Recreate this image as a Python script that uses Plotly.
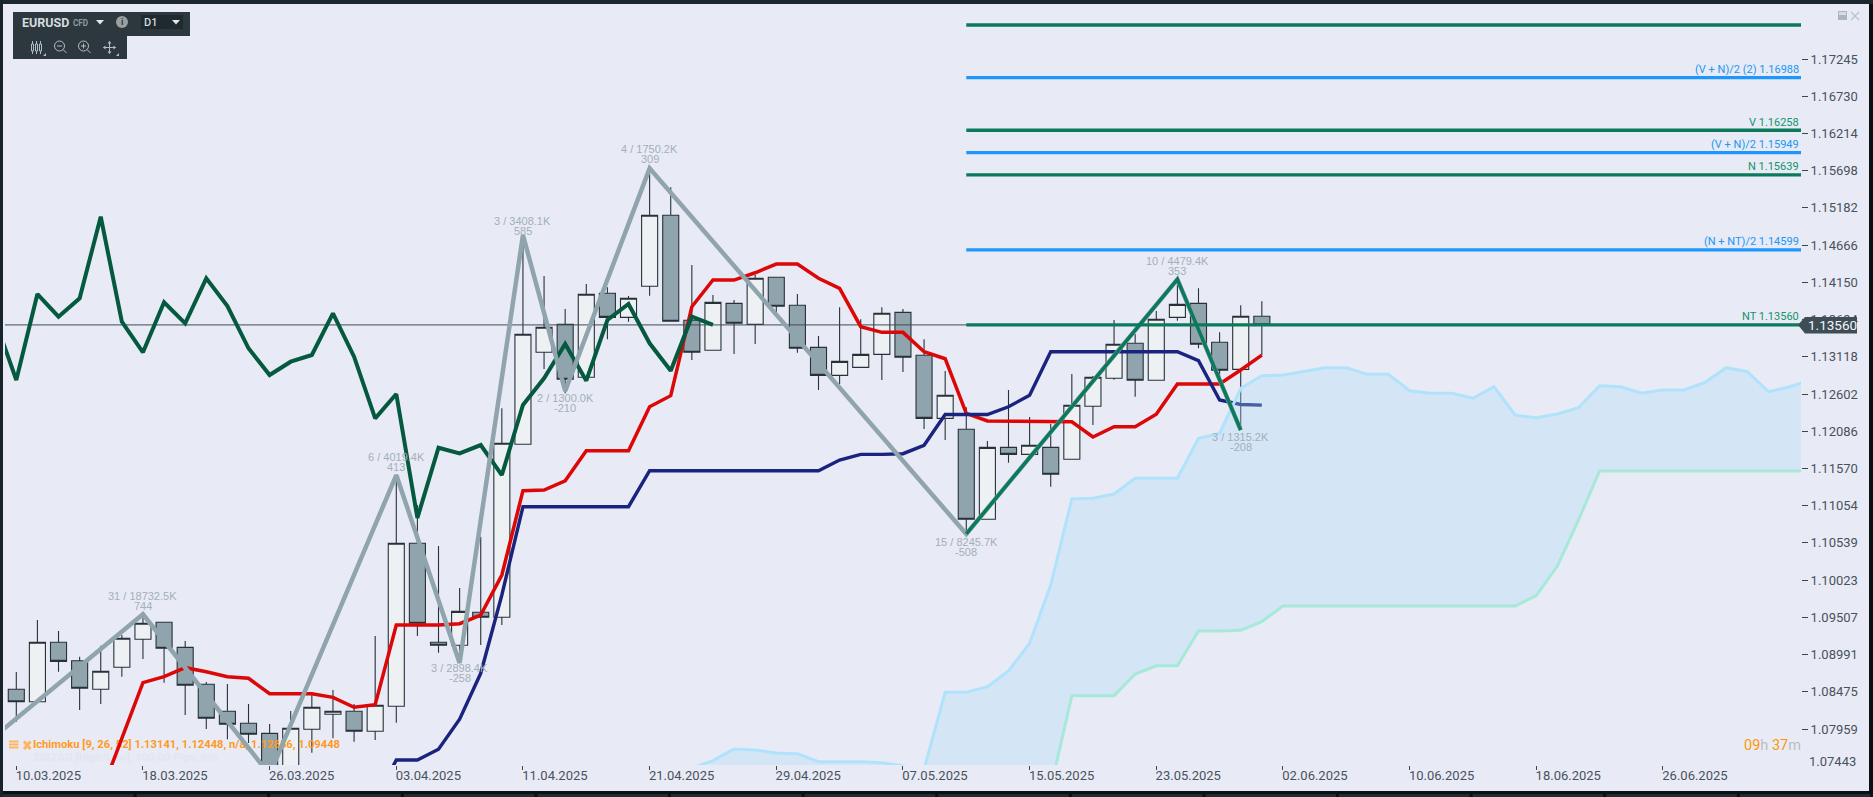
import plotly.graph_objects as go

# ---------- data ----------
tick_labels = ["10.03.2025","18.03.2025","26.03.2025","03.04.2025","11.04.2025","21.04.2025","29.04.2025",
               "07.05.2025","15.05.2025","23.05.2025","02.06.2025","10.06.2025","18.06.2025","26.06.2025"]
price_ticks = [1.17245,1.16730,1.16214,1.15698,1.15182,1.14666,1.14150,1.13634,1.13118,1.12602,
               1.12086,1.11570,1.11054,1.10539,1.10023,1.09507,1.08991,1.08475,1.07959]

opens = [1.08509,1.08337,1.09161,1.08906,1.08509,1.08814,1.09202,1.09438,1.09091,1.08579,1.08204,1.08038,1.07899,1.07321,1.07955,
         1.08163,1.08204,1.07927,1.08274,1.10533,1.09161,1.09119,1.09577,1.09507,1.11905,1.13180,1.13568,1.12834,1.13998,1.13665,
         1.14095,1.15079,1.13624,1.13208,1.13859,1.13568,1.14220,1.13832,1.13249,1.12861,1.12972,1.13152,1.13734,1.13139,1.12265,
         1.12113,1.10866,1.11863,1.11766,1.11863,1.11697,1.12432,1.12820,1.13305,1.12792,1.13665,1.13859,1.13319,1.12944,1.13679]
highs = [1.08749,1.09470,1.09317,1.08961,1.09114,1.09262,1.09539,1.09438,1.09179,1.08610,1.08583,1.08306,1.08028,1.08209,1.08458,
         1.08500,1.08306,1.09248,1.11479,1.11064,1.10495,1.09913,1.10624,1.12404,1.14806,1.14238,1.13780,1.14127,1.14081,1.13960,
         1.15730,1.15467,1.14390,1.13974,1.13905,1.14251,1.14220,1.13988,1.13406,1.13804,1.13638,1.13804,1.13780,1.13360,1.12921,
         1.12418,1.11951,1.12658,1.12283,1.12186,1.12879,1.12852,1.13628,1.13434,1.13753,1.14192,1.14067,1.13457,1.13832,1.13887]
lows = [1.08060,1.08337,1.08753,1.08222,1.08306,1.08684,1.08929,1.08601,1.08153,1.07959,1.07816,1.07765,1.07183,1.07183,1.07631,
        1.07830,1.07783,1.07807,1.08046,1.09248,1.09017,1.08985,1.09123,1.09400,1.11905,1.12949,1.12612,1.12834,1.13360,1.13604,
        1.13965,1.13610,1.13073,1.13208,1.13157,1.13295,1.13721,1.13175,1.12658,1.12741,1.12972,1.12796,1.12907,1.12117,1.11965,
        1.10671,1.10866,1.11650,1.11766,1.11317,1.11697,1.12172,1.12800,1.12565,1.12792,1.13618,1.13236,1.12824,1.12103,1.13143]
closes = [1.08337,1.09161,1.08897,1.08523,1.08759,1.09216,1.09424,1.09078,1.08565,1.08107,1.08024,1.07886,1.07321,1.07969,1.08260,
          1.08204,1.07927,1.08288,1.10533,1.09424,1.09119,1.09590,1.09507,1.11919,1.13430,1.13527,1.12806,1.13984,1.13665,1.13929,
          1.15079,1.13610,1.13180,1.13873,1.13582,1.14206,1.13818,1.13236,1.12861,1.13055,1.13152,1.13721,1.13111,1.12265,1.12584,
          1.10866,1.11863,1.11766,1.11891,1.11489,1.12446,1.12834,1.13291,1.12792,1.13638,1.13845,1.13291,1.12931,1.13679,1.13560]

chikou_start = -1
chikou = [1.13628,1.12796,1.13988,1.13674,1.13929,1.15060,1.13604,1.13180,1.13873,1.13582,1.14206,1.13822,1.13236,1.12865,1.13050,
          1.13143,1.13721,1.13119,1.12265,1.12602,1.10884,1.11858,1.11780,1.11895,1.11479,1.12450,1.12820,1.13295,1.12787,1.13628,
          1.13850,1.13305,1.12925,1.13674,1.13560]
tenkan_start = 4
tenkan = [1.07058,1.07834,1.08601,1.08684,1.08809,1.08753,1.08684,1.08662,1.08448,1.08448,1.08448,1.08398,1.08260,1.08296,
          1.09400,1.09400,1.09400,1.09419,1.09539,1.10093,1.11262,1.11272,1.11400,1.11816,1.11816,1.11816,1.12426,1.12579,
          1.13812,1.14182,1.14182,1.14283,1.14404,1.14404,1.14206,1.14067,1.13535,1.13457,1.13457,1.13188,1.13091,1.12335,
          1.12228,1.12228,1.12228,1.12228,1.12218,1.12006,1.12149,1.12149,1.12321,1.12741,1.12741,1.12741,1.12935,1.13141]
kijun_start = 17
kijun = [1.06975,1.07529,1.07529,1.07678,1.08094,1.08731,1.09816,1.11040,1.11040,1.11040,1.11040,1.11040,1.11040,
         1.11539,1.11539,1.11539,1.11539,1.11539,1.11539,1.11539,1.11539,1.11539,1.11687,1.11766,1.11766,1.11775,1.11891,
         1.12318,1.12318,1.12318,1.12426,1.12584,1.13188,1.13188,1.13188,1.13188,1.13188,1.13188,1.13188,1.13064,1.12519,1.12457,1.12448]
cloud_start = 32
senkou_a = [1.07419,1.07520,1.07682,1.07668,1.07626,1.07617,1.07506,1.07506,1.07506,1.07492,1.07446,1.07405,1.08468,1.08468,1.08545,
            1.08763,1.09147,1.09955,1.11147,1.11157,1.11216,1.11434,1.11434,1.11434,1.11988,1.12057,1.12681,1.12856,1.12865,1.12921,
            1.12967,1.12967,1.12875,1.12875,1.12648,1.12612,1.12612,1.12543,1.12703,1.12311,1.12274,1.12325,1.12412,1.12717,1.12703,
            1.12612,1.12658,1.12658,1.12764,1.12967,1.12911,1.12634,1.12703,1.12796]
senkou_b = [1.06975,1.06975,1.06975,1.06975,1.06975,1.06975,1.06975,1.06975,1.06975,1.06975,1.06975,1.06975,1.06975,1.06975,1.06975,
            1.06975,1.06975,1.07141,1.08421,1.08421,1.08421,1.08721,1.08836,1.08836,1.09317,1.09317,1.09327,1.09448,1.09664,1.09664,
            1.09664,1.09664,1.09664,1.09664,1.09664,1.09664,1.09664,1.09664,1.09664,1.09664,1.09807,1.10218,1.10856,1.11535,1.11535,
            1.11535,1.11535,1.11535,1.11535,1.11535,1.11535,1.11535,1.11535,1.11535]

zigzag_bars = [-1,6,12,18,21,24,26,30,45,55,58]
zigzag_prices = [1.07862,1.09549,1.07326,1.11479,1.08874,1.14806,1.12644,1.15730,1.10662,1.14192,1.12103]
wave_bars = [45,55,58]
wave_prices = [1.10662,1.14192,1.12103]

zz_label_bars = [6,18,21,24,26,30,45,55,58]
zz_label_prices = [1.09549,1.11479,1.08874,1.14806,1.12644,1.15730,1.10662,1.14192,1.12103]
zz_label_top = ["31 / 18732.5K","6 / 4019.4K","3 / 2898.4K","3 / 3408.1K","2 / 1300.0K","4 / 1750.2K","15 / 8245.7K","10 / 4479.4K","3 / 1315.2K"]
zz_label_bottom = ["744","413","-258","585","-210","309","-508","353","-208"]

level_names = ["", "(V + N)/2 (2)", "V", "(V + N)/2", "N", "(N + NT)/2", "NT"]
level_values = [1.17717, 1.16988, 1.16258, 1.15949, 1.15639, 1.14599, 1.13560]
level_kinds = ["g", "b", "g", "b", "g", "b", "g"]

last_price = 1.13560
legend_text = "Ichimoku [9, 26, 52] 1.13141, 1.12448, n/a, 1.12856, 1.09448"
faint_text = "ZIGZAG [High/Low], 100.00 Pips, n/a"

# ---------- layout constants ----------
W, H = 1873, 797
ML, MR, MT, MB = 5, 72, 4, 32
PW, PH = W - ML - MR, H - MT - MB
def fx(x): return (x - ML) / PW
def fy(y): return 1 - (y - MT) / PH

BG = "#e8ebf6"; AXC = "#3c4650"; TXT = "#48525c"; GREY = "#90a4ae"
GREEN = "#0b7a5a"; BLUE = "#1e96fb"; PANEL = "#2d383e"; ICON = "#b0bec5"
xmax_bar = 85

fig = go.Figure()
bars = list(range(len(opens)))

fig.add_trace(go.Candlestick(x=bars, open=opens, high=highs, low=lows, close=closes, whiskerwidth=0,
    increasing=dict(line=dict(color="#263238", width=1.1), fillcolor="#eef1f3"),
    decreasing=dict(line=dict(color="#263238", width=1.1), fillcolor=GREY),
    hoverinfo="skip", showlegend=False))

def line(x, y, color, width, **kw):
    fig.add_trace(go.Scatter(x=list(x), y=y, mode="lines", line=dict(color=color, width=width, shape="linear"),
                             hoverinfo="skip", showlegend=False, **kw))

line([-1, xmax_bar], [last_price, last_price], "#3f4a54", 1)

# legend text is drawn before the indicator lines so they pass over it
fig.add_trace(go.Scatter(x=[0.79], y=[1.07737], mode="text", text=[legend_text], textposition="middle right",
    textfont=dict(family="Roboto", size=11.2, color="#ff9a1f", weight=700), hoverinfo="skip", showlegend=False))
fig.add_trace(go.Scatter(x=[0.79], y=[1.07557], mode="text", text=[faint_text], textposition="middle right",
    textfont=dict(family="Roboto", size=11.2, color="#e3e6f1", weight=700), hoverinfo="skip", showlegend=False))

line(range(tenkan_start, tenkan_start + len(tenkan)), tenkan, "#dc0707", 3.5)
line(range(kijun_start, kijun_start + len(kijun)), kijun, "#1a237e", 3.4)
cloud_x = range(cloud_start, cloud_start + len(senkou_a))
line(cloud_x, senkou_b, "#a6e9d8", 3)
line(cloud_x, senkou_a, "#b0e3fb", 3, fill="tonexty", fillcolor="rgba(170,218,246,0.32)")
line(range(chikou_start, chikou_start + len(chikou)), chikou, "#04593f", 4)
line(zigzag_bars, zigzag_prices, GREY, 4.5)
line(wave_bars, wave_prices, GREEN, 3.5)
for value, kind in zip(level_values, level_kinds):
    line([wave_bars[0], xmax_bar], [value, value], GREEN if kind == "g" else BLUE, 3.3)

# ---------- annotations ----------
ann = []
def ptext(x, y, text, size, color, anchor="left", family="Roboto", weight=None):
    f = dict(family=family, size=size, color=color)
    if weight: f["weight"] = weight
    ann.append(dict(xref="paper", yref="paper", x=fx(x), y=fy(y), text=text, showarrow=False,
                    xanchor=anchor, yanchor="middle", font=f, xshift=0, yshift=0, borderpad=0, borderwidth=0))

label_shift_top = [18.6, 18.3, -5.3, 14.3, -6.7, 19, -7.7, 18.6, -6.7]
for b, p, t1, t2, s in zip(zz_label_bars, zz_label_prices, zz_label_top, zz_label_bottom, label_shift_top):
    for txt, sh in ((t1, s), (t2, s - 10)):
        ann.append(dict(x=b, y=p, xref="x", yref="y", text=txt, showarrow=False, yshift=sh, yanchor="middle",
                        xanchor="center", font=dict(family="Liberation Sans", size=11, color="#a3afb8")))

for name, value, kind in zip(level_names, level_values, level_kinds):
    if name:
        ann.append(dict(xref="paper", yref="y", x=1, y=value, text=f"{name} {value:.5f}", showarrow=False,
                        xanchor="right", yanchor="middle", yshift=8,
                        font=dict(family="Roboto", size=11, color="#2196f3" if kind == "b" else "#12936a")))

ptext(1857, 325, f"{last_price:.5f}", 13.5, "#f2f5f7", "right")
ptext(1809, 761, "1.07443", 13, TXT)
ptext(1801, 745, '<span style="color:#ff9800">09</span><span style="color:#bdbdbd">h</span> '
                 '<span style="color:#ff9800">37</span><span style="color:#bdbdbd">m</span>', 14.5, "#ff9800", "right")
ptext(22, 22.5, "EURUSD", 12.5, "#d5dbde", weight=700)
ptext(72.5, 23, "CFD", 8.2, "#8d9ba3", weight=700)
ptext(144, 22.5, "D1", 11, "#d5dbde", weight=500)
ptext(122, 22, "i", 9, "#2d383e", "center", weight=700)

# ---------- chrome shapes ----------
sh = []
def rect(x0, y0, x1, y1, fill, layer="below"):
    sh.append(dict(type="rect", xref="paper", yref="paper", x0=fx(x0), x1=fx(x1), y0=fy(y0), y1=fy(y1),
                   fillcolor=fill, line=dict(width=0), layer=layer))
def seg(x0, y0, x1, y1, color, width=1):
    sh.append(dict(type="line", xref="paper", yref="paper", x0=fx(x0), x1=fx(x1), y0=fy(y0), y1=fy(y1),
                   line=dict(color=color, width=width), layer="above"))
def poly(pts, fill):
    p = "M " + " L ".join(f"{fx(a):.6f} {fy(b):.6f}" for a, b in pts) + " Z"
    sh.append(dict(type="path", xref="paper", yref="paper", path=p, fillcolor=fill, line=dict(width=0), layer="above"))
def ring(cx, cy, r, color):
    sh.append(dict(type="circle", xref="paper", yref="paper", x0=fx(cx - r), x1=fx(cx + r), y0=fy(cy - r), y1=fy(cy + r),
                   line=dict(color=color, width=1), layer="above"))

rect(3, 4, 1869, 791, BG)
rect(0, 0, W, 4, "#1c272d")
rect(0, 0, 3, 797, "#18232a")
k = 0
while 3 + 133.6 * k < W:
    rect(3 + 133.6 * k, 794, 3 + 133.6 * (k + 1) - 3, 797, "#1f2c33")
    k += 1

# toolbar
rect(13, 12, 190, 36, PANEL, "above")
rect(13, 36, 127, 59, PANEL, "above")
rect(141, 15, 183, 29, "#1f2a2f", "above")
poly([(96, 20), (104, 20), (100, 24.5)], "#e3e7e9")
poly([(172, 20), (180, 20), (176, 24.5)], "#e3e7e9")
sh.append(dict(type="circle", xref="paper", yref="paper", x0=fx(116), x1=fx(128), y0=fy(16), y1=fy(28),
               fillcolor="#9a9fa2", line=dict(width=0), layer="above"))
for cx in (32.5, 36.5, 40.5):
    seg(cx, 41, cx, 54, ICON)
    sh.append(dict(type="rect", xref="paper", yref="paper", x0=fx(cx - 1), x1=fx(cx + 1), y0=fy(44), y1=fy(51),
                   line=dict(color=ICON, width=1), fillcolor=PANEL, layer="above"))
poly([(46, 53), (43, 56), (46, 56)], ICON)
for cx, plus in ((59.5, False), (83.5, True)):
    ring(cx, 46, 5, ICON)
    seg(cx + 3.5, 49.5, cx + 7, 53, ICON)
    seg(cx - 2.5, 46, cx + 2.5, 46, ICON)
    if plus:
        seg(cx, 43.5, cx, 48.5, ICON)
seg(103.5, 47.5, 115.5, 47.5, ICON)
seg(109.5, 41.5, 109.5, 53.5, ICON)
for a, b, c in (((103, 47.5), (105.5, 45.5), (105.5, 49.5)), ((116, 47.5), (113.5, 45.5), (113.5, 49.5)),
                ((109.5, 41), (107.5, 43.5), (111.5, 43.5)), ((109.5, 54), (107.5, 51.5), (111.5, 51.5))):
    poly([a, b, c], ICON)
poly([(119, 53), (116, 56), (119, 56)], ICON)

# legend icons
for yy in (741.5, 744.5, 747.5):
    seg(9, yy, 18.5, yy, "#ffb45e", 2)
seg(24, 741.5, 30.5, 749, "#ffb45e", 3)
seg(30.5, 741.5, 24, 749, "#ffb45e", 3)

# top-right window buttons
rect(1838, 11, 1847, 20, "#aab6bd", "above")
rect(1839, 12, 1846, 15, "#d6dce3", "above")
seg(1851, 12, 1859, 20, "#b8c4cc", 1.2)
seg(1859, 12, 1851, 20, "#b8c4cc", 1.2)

# last price tag
poly([(1798, 325), (1805, 317), (1857, 317), (1857, 333.5), (1805, 333.5)], "#3f4d57")

fig.update_layout(
    width=W, height=H, autosize=False,
    margin=dict(l=ML, r=MR, t=MT, b=MB, pad=0),
    paper_bgcolor="#0b1014", plot_bgcolor=BG, showlegend=False, boxmode="overlay", boxgap=0.24, boxgroupgap=0, dragmode=False,
    shapes=sh, annotations=ann,
    font=dict(family="Roboto", size=13, color=TXT),
    xaxis=dict(range=[-0.535, 84.54], rangeslider=dict(visible=False), showgrid=False, zeroline=False, showline=False,
               tickmode="array", tickvals=[6 * j for j in range(len(tick_labels))], ticktext=tick_labels,
               ticks="outside", ticklen=4, tickwidth=1, tickcolor=AXC, ticklabelshift=32, ticklabelstandoff=-6,
               tickfont=dict(family="Roboto", size=13, color=TXT), fixedrange=True),
    yaxis=dict(range=[1.0746, 1.18008], side="right", showgrid=False, zeroline=False, showline=False,
               tickmode="array", tickvals=price_ticks, ticktext=[f"{v:.5f}" for v in price_ticks],
               ticks="outside", ticklen=6, tickwidth=1, tickcolor=AXC,
               tickfont=dict(family="Roboto", size=13, color=TXT), fixedrange=True),
)

fig.write_html("out.html", config=dict(displayModeBar=False),
               post_script="document.body.style.margin='0';document.documentElement.style.overflow='hidden';")
